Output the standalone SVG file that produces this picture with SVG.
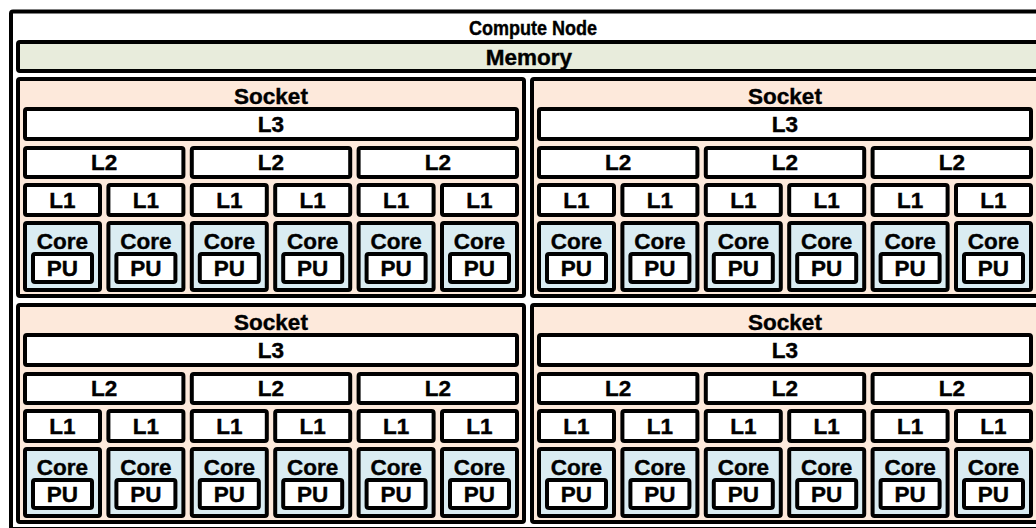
<svg xmlns="http://www.w3.org/2000/svg" width="1036" height="528" viewBox="0 0 1036 528">
  <style>
    rect { stroke: #000; stroke-width: 4; rx: 2px; }
    .node { fill: #fff; }
    .memory { fill: #e8ecdc; }
    .socket { fill: #fde9db; }
    .cache { fill: #fff; }
    .core { fill: #daecf2; }
    .pu { fill: #fff; }
    text { font-family: "Liberation Sans", Arial, sans-serif; font-weight: bold; font-size: 22.5px; text-anchor: middle; fill: #000; stroke: #000; stroke-width: 0.4; }
    .title { font-size: 20px; }
  </style>

  <!-- machine -->
  <g id="compute-node">
    <rect class="node" x="11" y="11.5" width="1034" height="517.5"/>
    <text class="title" x="533" y="34.5" textLength="128" lengthAdjust="spacingAndGlyphs">Compute Node</text>
  </g>
  <g id="memory">
    <rect class="memory" x="18" y="42" width="1020" height="29"/>
    <text x="529" y="64.5">Memory</text>
  </g>

  <!-- socket 1 -->
  <g id="socket-1" transform="translate(18,79)">
    <rect class="socket" width="506" height="217"/>
    <text x="253" y="24.5">Socket</text>
    <g id="s1-l3"><rect class="cache" x="7" y="30" width="492" height="30"/><text x="253" y="52.5">L3</text></g>
    <g id="s1-l2-0"><rect class="cache" x="7" y="69" width="158.4" height="29"/><text x="86.2" y="91">L2</text></g>
    <g id="s1-l2-1"><rect class="cache" x="173.8" y="69" width="158.4" height="29"/><text x="253" y="91">L2</text></g>
    <g id="s1-l2-2"><rect class="cache" x="340.6" y="69" width="158.4" height="29"/><text x="419.8" y="91">L2</text></g>
    <g id="s1-l1-0"><rect class="cache" x="7" y="106" width="75" height="30"/><text x="44.5" y="128.5">L1</text></g>
    <g id="s1-l1-1"><rect class="cache" x="90.4" y="106" width="75" height="30"/><text x="127.9" y="128.5">L1</text></g>
    <g id="s1-l1-2"><rect class="cache" x="173.8" y="106" width="75" height="30"/><text x="211.3" y="128.5">L1</text></g>
    <g id="s1-l1-3"><rect class="cache" x="257.2" y="106" width="75" height="30"/><text x="294.7" y="128.5">L1</text></g>
    <g id="s1-l1-4"><rect class="cache" x="340.6" y="106" width="75" height="30"/><text x="378.1" y="128.5">L1</text></g>
    <g id="s1-l1-5"><rect class="cache" x="424" y="106" width="75" height="30"/><text x="461.5" y="128.5">L1</text></g>
    <g id="s1-core-0"><rect class="core" x="7" y="144" width="75" height="67"/><text x="44.5" y="169.5">Core</text>
      <g id="s1-pu-0"><rect class="pu" x="15" y="175" width="59" height="28"/><text x="44.5" y="196.5">PU</text></g></g>
    <g id="s1-core-1"><rect class="core" x="90.4" y="144" width="75" height="67"/><text x="127.9" y="169.5">Core</text>
      <g id="s1-pu-1"><rect class="pu" x="98.4" y="175" width="59" height="28"/><text x="127.9" y="196.5">PU</text></g></g>
    <g id="s1-core-2"><rect class="core" x="173.8" y="144" width="75" height="67"/><text x="211.3" y="169.5">Core</text>
      <g id="s1-pu-2"><rect class="pu" x="181.8" y="175" width="59" height="28"/><text x="211.3" y="196.5">PU</text></g></g>
    <g id="s1-core-3"><rect class="core" x="257.2" y="144" width="75" height="67"/><text x="294.7" y="169.5">Core</text>
      <g id="s1-pu-3"><rect class="pu" x="265.2" y="175" width="59" height="28"/><text x="294.7" y="196.5">PU</text></g></g>
    <g id="s1-core-4"><rect class="core" x="340.6" y="144" width="75" height="67"/><text x="378.1" y="169.5">Core</text>
      <g id="s1-pu-4"><rect class="pu" x="348.6" y="175" width="59" height="28"/><text x="378.1" y="196.5">PU</text></g></g>
    <g id="s1-core-5"><rect class="core" x="424" y="144" width="75" height="67"/><text x="461.5" y="169.5">Core</text>
      <g id="s1-pu-5"><rect class="pu" x="432" y="175" width="59" height="28"/><text x="461.5" y="196.5">PU</text></g></g>
  </g>

  <!-- socket 2 -->
  <g id="socket-2" transform="translate(532,79)">
    <rect class="socket" width="506" height="217"/>
    <text x="253" y="24.5">Socket</text>
    <g id="s2-l3"><rect class="cache" x="7" y="30" width="492" height="30"/><text x="253" y="52.5">L3</text></g>
    <g id="s2-l2-0"><rect class="cache" x="7" y="69" width="158.4" height="29"/><text x="86.2" y="91">L2</text></g>
    <g id="s2-l2-1"><rect class="cache" x="173.8" y="69" width="158.4" height="29"/><text x="253" y="91">L2</text></g>
    <g id="s2-l2-2"><rect class="cache" x="340.6" y="69" width="158.4" height="29"/><text x="419.8" y="91">L2</text></g>
    <g id="s2-l1-0"><rect class="cache" x="7" y="106" width="75" height="30"/><text x="44.5" y="128.5">L1</text></g>
    <g id="s2-l1-1"><rect class="cache" x="90.4" y="106" width="75" height="30"/><text x="127.9" y="128.5">L1</text></g>
    <g id="s2-l1-2"><rect class="cache" x="173.8" y="106" width="75" height="30"/><text x="211.3" y="128.5">L1</text></g>
    <g id="s2-l1-3"><rect class="cache" x="257.2" y="106" width="75" height="30"/><text x="294.7" y="128.5">L1</text></g>
    <g id="s2-l1-4"><rect class="cache" x="340.6" y="106" width="75" height="30"/><text x="378.1" y="128.5">L1</text></g>
    <g id="s2-l1-5"><rect class="cache" x="424" y="106" width="75" height="30"/><text x="461.5" y="128.5">L1</text></g>
    <g id="s2-core-0"><rect class="core" x="7" y="144" width="75" height="67"/><text x="44.5" y="169.5">Core</text>
      <g id="s2-pu-0"><rect class="pu" x="15" y="175" width="59" height="28"/><text x="44.5" y="196.5">PU</text></g></g>
    <g id="s2-core-1"><rect class="core" x="90.4" y="144" width="75" height="67"/><text x="127.9" y="169.5">Core</text>
      <g id="s2-pu-1"><rect class="pu" x="98.4" y="175" width="59" height="28"/><text x="127.9" y="196.5">PU</text></g></g>
    <g id="s2-core-2"><rect class="core" x="173.8" y="144" width="75" height="67"/><text x="211.3" y="169.5">Core</text>
      <g id="s2-pu-2"><rect class="pu" x="181.8" y="175" width="59" height="28"/><text x="211.3" y="196.5">PU</text></g></g>
    <g id="s2-core-3"><rect class="core" x="257.2" y="144" width="75" height="67"/><text x="294.7" y="169.5">Core</text>
      <g id="s2-pu-3"><rect class="pu" x="265.2" y="175" width="59" height="28"/><text x="294.7" y="196.5">PU</text></g></g>
    <g id="s2-core-4"><rect class="core" x="340.6" y="144" width="75" height="67"/><text x="378.1" y="169.5">Core</text>
      <g id="s2-pu-4"><rect class="pu" x="348.6" y="175" width="59" height="28"/><text x="378.1" y="196.5">PU</text></g></g>
    <g id="s2-core-5"><rect class="core" x="424" y="144" width="75" height="67"/><text x="461.5" y="169.5">Core</text>
      <g id="s2-pu-5"><rect class="pu" x="432" y="175" width="59" height="28"/><text x="461.5" y="196.5">PU</text></g></g>
  </g>

  <!-- socket 3 -->
  <g id="socket-3" transform="translate(18,305)">
    <rect class="socket" width="506" height="217"/>
    <text x="253" y="24.5">Socket</text>
    <g id="s3-l3"><rect class="cache" x="7" y="30" width="492" height="30"/><text x="253" y="52.5">L3</text></g>
    <g id="s3-l2-0"><rect class="cache" x="7" y="69" width="158.4" height="29"/><text x="86.2" y="91">L2</text></g>
    <g id="s3-l2-1"><rect class="cache" x="173.8" y="69" width="158.4" height="29"/><text x="253" y="91">L2</text></g>
    <g id="s3-l2-2"><rect class="cache" x="340.6" y="69" width="158.4" height="29"/><text x="419.8" y="91">L2</text></g>
    <g id="s3-l1-0"><rect class="cache" x="7" y="106" width="75" height="30"/><text x="44.5" y="128.5">L1</text></g>
    <g id="s3-l1-1"><rect class="cache" x="90.4" y="106" width="75" height="30"/><text x="127.9" y="128.5">L1</text></g>
    <g id="s3-l1-2"><rect class="cache" x="173.8" y="106" width="75" height="30"/><text x="211.3" y="128.5">L1</text></g>
    <g id="s3-l1-3"><rect class="cache" x="257.2" y="106" width="75" height="30"/><text x="294.7" y="128.5">L1</text></g>
    <g id="s3-l1-4"><rect class="cache" x="340.6" y="106" width="75" height="30"/><text x="378.1" y="128.5">L1</text></g>
    <g id="s3-l1-5"><rect class="cache" x="424" y="106" width="75" height="30"/><text x="461.5" y="128.5">L1</text></g>
    <g id="s3-core-0"><rect class="core" x="7" y="144" width="75" height="67"/><text x="44.5" y="169.5">Core</text>
      <g id="s3-pu-0"><rect class="pu" x="15" y="175" width="59" height="28"/><text x="44.5" y="196.5">PU</text></g></g>
    <g id="s3-core-1"><rect class="core" x="90.4" y="144" width="75" height="67"/><text x="127.9" y="169.5">Core</text>
      <g id="s3-pu-1"><rect class="pu" x="98.4" y="175" width="59" height="28"/><text x="127.9" y="196.5">PU</text></g></g>
    <g id="s3-core-2"><rect class="core" x="173.8" y="144" width="75" height="67"/><text x="211.3" y="169.5">Core</text>
      <g id="s3-pu-2"><rect class="pu" x="181.8" y="175" width="59" height="28"/><text x="211.3" y="196.5">PU</text></g></g>
    <g id="s3-core-3"><rect class="core" x="257.2" y="144" width="75" height="67"/><text x="294.7" y="169.5">Core</text>
      <g id="s3-pu-3"><rect class="pu" x="265.2" y="175" width="59" height="28"/><text x="294.7" y="196.5">PU</text></g></g>
    <g id="s3-core-4"><rect class="core" x="340.6" y="144" width="75" height="67"/><text x="378.1" y="169.5">Core</text>
      <g id="s3-pu-4"><rect class="pu" x="348.6" y="175" width="59" height="28"/><text x="378.1" y="196.5">PU</text></g></g>
    <g id="s3-core-5"><rect class="core" x="424" y="144" width="75" height="67"/><text x="461.5" y="169.5">Core</text>
      <g id="s3-pu-5"><rect class="pu" x="432" y="175" width="59" height="28"/><text x="461.5" y="196.5">PU</text></g></g>
  </g>

  <!-- socket 4 -->
  <g id="socket-4" transform="translate(532,305)">
    <rect class="socket" width="506" height="217"/>
    <text x="253" y="24.5">Socket</text>
    <g id="s4-l3"><rect class="cache" x="7" y="30" width="492" height="30"/><text x="253" y="52.5">L3</text></g>
    <g id="s4-l2-0"><rect class="cache" x="7" y="69" width="158.4" height="29"/><text x="86.2" y="91">L2</text></g>
    <g id="s4-l2-1"><rect class="cache" x="173.8" y="69" width="158.4" height="29"/><text x="253" y="91">L2</text></g>
    <g id="s4-l2-2"><rect class="cache" x="340.6" y="69" width="158.4" height="29"/><text x="419.8" y="91">L2</text></g>
    <g id="s4-l1-0"><rect class="cache" x="7" y="106" width="75" height="30"/><text x="44.5" y="128.5">L1</text></g>
    <g id="s4-l1-1"><rect class="cache" x="90.4" y="106" width="75" height="30"/><text x="127.9" y="128.5">L1</text></g>
    <g id="s4-l1-2"><rect class="cache" x="173.8" y="106" width="75" height="30"/><text x="211.3" y="128.5">L1</text></g>
    <g id="s4-l1-3"><rect class="cache" x="257.2" y="106" width="75" height="30"/><text x="294.7" y="128.5">L1</text></g>
    <g id="s4-l1-4"><rect class="cache" x="340.6" y="106" width="75" height="30"/><text x="378.1" y="128.5">L1</text></g>
    <g id="s4-l1-5"><rect class="cache" x="424" y="106" width="75" height="30"/><text x="461.5" y="128.5">L1</text></g>
    <g id="s4-core-0"><rect class="core" x="7" y="144" width="75" height="67"/><text x="44.5" y="169.5">Core</text>
      <g id="s4-pu-0"><rect class="pu" x="15" y="175" width="59" height="28"/><text x="44.5" y="196.5">PU</text></g></g>
    <g id="s4-core-1"><rect class="core" x="90.4" y="144" width="75" height="67"/><text x="127.9" y="169.5">Core</text>
      <g id="s4-pu-1"><rect class="pu" x="98.4" y="175" width="59" height="28"/><text x="127.9" y="196.5">PU</text></g></g>
    <g id="s4-core-2"><rect class="core" x="173.8" y="144" width="75" height="67"/><text x="211.3" y="169.5">Core</text>
      <g id="s4-pu-2"><rect class="pu" x="181.8" y="175" width="59" height="28"/><text x="211.3" y="196.5">PU</text></g></g>
    <g id="s4-core-3"><rect class="core" x="257.2" y="144" width="75" height="67"/><text x="294.7" y="169.5">Core</text>
      <g id="s4-pu-3"><rect class="pu" x="265.2" y="175" width="59" height="28"/><text x="294.7" y="196.5">PU</text></g></g>
    <g id="s4-core-4"><rect class="core" x="340.6" y="144" width="75" height="67"/><text x="378.1" y="169.5">Core</text>
      <g id="s4-pu-4"><rect class="pu" x="348.6" y="175" width="59" height="28"/><text x="378.1" y="196.5">PU</text></g></g>
    <g id="s4-core-5"><rect class="core" x="424" y="144" width="75" height="67"/><text x="461.5" y="169.5">Core</text>
      <g id="s4-pu-5"><rect class="pu" x="432" y="175" width="59" height="28"/><text x="461.5" y="196.5">PU</text></g></g>
  </g>

  <!-- no connectors in this containment view -->
  <g id="connectors"/>
</svg>
